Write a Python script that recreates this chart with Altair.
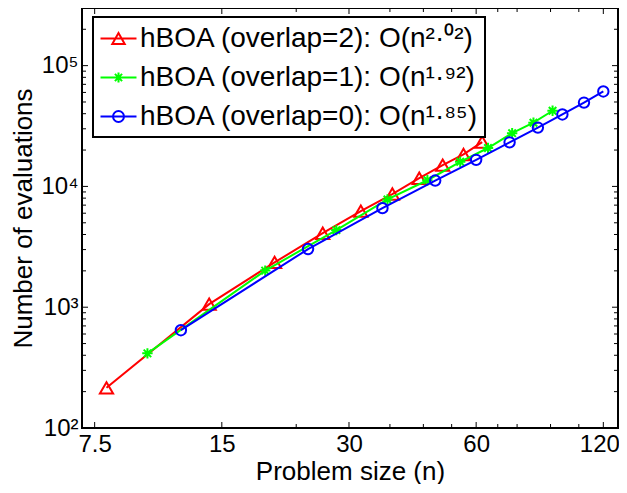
import altair as alt
import pandas as pd

# ---------------- data ----------------
series_labels = [
    "hBOA (overlap=2): O(n²·⁰²)",
    "hBOA (overlap=1): O(n¹·⁹²)",
    "hBOA (overlap=0): O(n¹·⁸⁵)",
]
series_colors = ["#ff0000", "#00ff00", "#0000ff"]

n_overlap2 = [8, 14, 20, 26, 32, 38, 44, 50, 56, 62]
evals_overlap2 = [215, 1060, 2350, 4100, 6250, 8650, 11700, 15000, 18400, 23300]

n_overlap1 = [10, 19, 28, 37, 46, 55, 64, 73, 82, 91]
evals_overlap1 = [415, 2010, 4350, 7800, 11250, 16000, 20800, 27600, 33700, 42300]

n_overlap0 = [12, 24, 36, 48, 60, 72, 84, 96, 108, 120]
evals_overlap0 = [645, 3030, 6610, 11190, 16600, 23170, 30700, 39450, 49430, 61100]

x_major = [7.5, 15, 30, 60, 120]
x_minor = [22.5, 37.5, 45, 52.5, 67.5, 75, 90, 105]
y_major = [100, 1000, 10000, 100000]
y_minor = [200, 300, 400, 500, 600, 700, 800, 900,
           2000, 3000, 4000, 5000, 6000, 7000, 8000, 9000,
           20000, 30000, 40000, 50000, 60000, 70000, 80000, 90000,
           200000, 300000]

rows = []
for k, (ns, ev) in enumerate([(n_overlap2, evals_overlap2),
                              (n_overlap1, evals_overlap1),
                              (n_overlap0, evals_overlap0)]):
    for n, e in zip(ns, ev):
        rows.append({"k": k, "series": series_labels[k], "n": n, "evals": e})
df = pd.DataFrame(rows)

# ---------------- layout / style ----------------
W, H = 536, 420
FONT = "Liberation Sans"

x_scale = alt.Scale(type="log", domain=[7, 130], nice=False)
y_scale = alt.Scale(type="log", domain=[100, 300000], nice=False)
color_scale = alt.Scale(domain=series_labels, range=series_colors)


def tri(u, hw, hh):
    return f"M0,{-hh/u:.3f}L{hw/u:.3f},{hh/u:.3f}L{-hw/u:.3f},{hh/u:.3f}Z"


def star(u, r):
    a = r / u
    d = a * 0.72
    return (f"M{-a:.3f},0L{a:.3f},0M0,{-a:.3f}L0,{a:.3f}"
            f"M{-d:.3f},{-d:.3f}L{d:.3f},{d:.3f}M{-d:.3f},{d:.3f}L{d:.3f},{-d:.3f}")


def circ(u, r):
    a = r / u
    return f"M{a:.3f},0A{a:.3f},{a:.3f},0,1,1,{-a:.3f},0A{a:.3f},{a:.3f},0,1,1,{a:.3f},0Z"


# data markers: size 196 -> unit 7px
MU = 7.0
marker_paths = [tri(MU, 6.6, 5.7), star(MU, 5.2), circ(MU, 5.2)]
shape_scale = alt.Scale(domain=[0, 1, 2], range=marker_paths)

# legend symbols: line + marker, size 841 -> unit 14.5px
LU = 14.5
line_part = f"M{-18/LU:.3f},0L{18/LU:.3f},0"
leg_paths = [line_part + tri(LU, 6.2, 5.4), line_part + star(LU, 5.0), line_part + circ(LU, 5.5)]
sym_expr = (f"datum.index == 0 ? '{leg_paths[0]}' : "
            f"datum.index == 1 ? '{leg_paths[1]}' : '{leg_paths[2]}'")

legend = alt.Legend(
    title=None,
    orient="none",
    legendX=11,
    legendY=9,
    fillColor="white",
    strokeColor="black",
    padding=6,
    rowPadding=9,
    symbolSize=841,
    symbolStrokeWidth=2,
    symbolFillColor="transparent",
    symbolOffset=4,
    symbolType=alt.ExprRef(expr=sym_expr),
    labelOffset=6,
    labelFont=FONT,
    labelFontSize=28,
    labelColor="black",
    labelLimit=0,
)

x_axis = alt.Axis(values=x_major, format=".1~f", ticks=False, domain=False, grid=False,
                  labelFont=FONT, labelFontSize=24, labelColor="black", labelPadding=4,
                  labelFlush=False, labelOverlap=False,
                  labelOffset={"condition": {"test": "datum.value == 120", "value": -4},
                               "value": 0},
                  title="Problem size (n)", titleFont=FONT, titleFontSize=26,
                  titleFontWeight="normal", titleColor="black", titlePadding=2)
y_axis = alt.Axis(values=y_major, ticks=False, domain=False, grid=False,
                  labelExpr="datum.value == 100 ? '10²' : datum.value == 1000 ? '10³' : "
                            "datum.value == 10000 ? '10⁴' : '10⁵'",
                  labelFont=FONT, labelFontSize=24, labelColor="black", labelPadding=4,
                  labelFlush=False, labelOverlap=False,
                  title="Number of evaluations", titleFont=FONT, titleFontSize=26,
                  titleFontWeight="normal", titleColor="black", titlePadding=4)

base = alt.Chart(df)
layers = []
for k in range(3):
    sub = base.transform_filter(alt.datum.k == k)
    line = sub.mark_line(strokeWidth=2, clip=True).encode(
        x=alt.X("n:Q", scale=x_scale, axis=x_axis),
        y=alt.Y("evals:Q", scale=y_scale, axis=y_axis),
        color=alt.Color("series:N", scale=color_scale, legend=legend if k == 0 else None),
        order=alt.Order("n:Q"),
    )
    pts = sub.mark_point(filled=False, strokeWidth=2, size=196, opacity=1).encode(
        x=alt.X("n:Q", scale=x_scale, axis=x_axis),
        y=alt.Y("evals:Q", scale=y_scale, axis=y_axis),
        color=alt.Color("series:N", scale=color_scale, legend=None),
        shape=alt.Shape("k:N", scale=shape_scale, legend=None),
    )
    layers += [line, pts]

# inward ticks on all four sides
xmaj = pd.DataFrame({"v": x_major})
xmin = pd.DataFrame({"v": x_minor})
ymaj = pd.DataFrame({"v": y_major})
ymin = pd.DataFrame({"v": y_minor})
tick_layers = []
for d, L in ((xmaj, 6), (xmin, 4)):
    xe = alt.X("v:Q", scale=x_scale, axis=x_axis)
    tick_layers.append(alt.Chart(d).mark_rule(color="black", strokeWidth=1).encode(
        x=xe, y=alt.value(H), y2=alt.value(H - L)))
    tick_layers.append(alt.Chart(d).mark_rule(color="black", strokeWidth=1).encode(
        x=xe, y=alt.value(0), y2=alt.value(L)))
for d, L in ((ymaj, 6), (ymin, 4)):
    ye = alt.Y("v:Q", scale=y_scale, axis=y_axis)
    tick_layers.append(alt.Chart(d).mark_rule(color="black", strokeWidth=1).encode(
        y=ye, x=alt.value(0), x2=alt.value(L)))
    tick_layers.append(alt.Chart(d).mark_rule(color="black", strokeWidth=1).encode(
        y=ye, x=alt.value(W), x2=alt.value(W - L)))

chart = alt.layer(*layers, *tick_layers).properties(
    width=W,
    height=H,
    autosize=alt.AutoSizeParams(type="none"),
    padding={"left": 74, "top": 0, "right": 1, "bottom": 56},
).configure(
    font=FONT, background="white"
).configure_view(
    stroke="black", strokeWidth=2
).configure_legend(
    strokeWidth=2
)

chart.save("out.html", embed_options={"renderer": "svg", "actions": False})
